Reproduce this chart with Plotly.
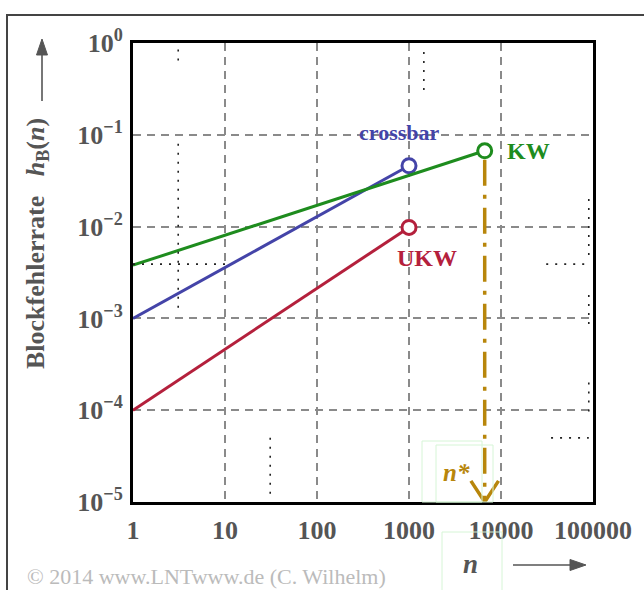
import numpy as np
import plotly.graph_objects as go

# ---------------- data ----------------
n_cross = [1, 1000]
h_cross = [1e-3, 0.046]
n_kw = [1, 6650]
h_kw = [0.0038, 0.067]
n_ukw = [1, 1000]
h_ukw = [1e-4, 0.0098]
n_star = 6650
h_floor = 1e-5

x_ticks = [1, 10, 100, 1000, 10000, 100000]
x_ticklabels = ["1", "10", "100", "1000", "10000", "100000"]
y_ticks = [1e-5, 1e-4, 1e-3, 1e-2, 1e-1, 1]
y_ticklabels = ["10<sup>−5</sup>", "10<sup>−4</sup>", "10<sup>−3</sup>",
                "10<sup>−2</sup>", "10<sup>−1</sup>", "10<sup>0</sup>"]

BLUE = "#4444A8"
GREEN = "#1E8C1E"
RED = "#B4203C"
GOLD = "#B8860B"
GRAY = "#555555"
FONT = "Liberation Serif"

W, H = 644, 590
L, R, T, B = 133, 51, 43, 88

fig = go.Figure()

def series(x, y, color):
    fig.add_trace(go.Scatter(x=x, y=y, mode="lines",
                             line=dict(color=color, width=3), hoverinfo="skip"))
    fig.add_trace(go.Scatter(x=x[-1:], y=y[-1:], mode="markers",
                             marker=dict(size=14, color="white",
                                         line=dict(color=color, width=3)),
                             hoverinfo="skip"))

# dash-dot arrow from KW end point down to n*
fig.add_trace(go.Scatter(x=[n_star, n_star], y=[h_kw[-1] * 0.8, h_floor], mode="lines",
                         line=dict(color=GOLD, width=3.5, dash="26px,9px,4px,9px"),
                         hoverinfo="skip"))
# open V arrowhead
lx = np.log10(n_star)
fig.add_trace(go.Scatter(x=[10 ** (lx - 0.15), n_star, 10 ** (lx + 0.15)],
                         y=[10 ** (-5 + 0.23), h_floor, 10 ** (-5 + 0.23)],
                         mode="lines", line=dict(color=GOLD, width=3.5),
                         hoverinfo="skip"))

series(n_ukw, h_ukw, RED)
series(n_cross, h_cross, BLUE)
series(n_kw, h_kw, GREEN)

# faint dotted artifacts seen in the reference
dots = dict(color="#222222", width=1.6, dash="2px,7px")
artifacts = [
    ([3.1, 3.1], [0.85, 0.55]),
    ([3.1, 3.1], [0.08, 0.0012]),
    ([1.0, 11.0], [0.0039, 0.0039]),
    ([31, 31], [5e-5, 1.05e-5]),
    ([1450, 1450], [0.8, 0.27]),
    ([31000, 90000], [0.0039, 0.0039]),
    ([90000, 90000], [0.02, 0.0045]),
    ([90000, 90000], [0.0018, 0.0008]),
    ([90000, 90000], [2e-4, 9e-5]),
    ([35000, 90000], [5e-5, 5e-5]),
]
for ax_, ay_ in artifacts:
    fig.add_trace(go.Scatter(x=ax_, y=ay_, mode="lines", line=dots, hoverinfo="skip"))


def px_x(p):
    return (p - L) / (W - L - R)


def px_y(p):
    return (H - B - p) / (H - T - B)


ann = []
ann.append(dict(x=np.log10(n_cross[-1]), y=np.log10(h_cross[-1]), xref="x", yref="y",
                text="<b>crossbar</b>", showarrow=False, xshift=-10, yshift=33,
                font=dict(family=FONT, size=22, color=BLUE)))
ann.append(dict(x=np.log10(n_kw[-1]), y=np.log10(h_kw[-1]), xref="x", yref="y",
                text="<b>KW</b>", showarrow=False, xshift=44, yshift=0,
                font=dict(family=FONT, size=24, color=GREEN)))
ann.append(dict(x=np.log10(n_ukw[-1]), y=np.log10(h_ukw[-1]), xref="x", yref="y",
                text="<b>UKW</b>", showarrow=False, xshift=18, yshift=-31,
                font=dict(family=FONT, size=24, color=RED)))
ann.append(dict(x=np.log10(n_star), y=np.log10(h_floor), xref="x", yref="y",
                text="<b><i>n*</i></b>", showarrow=False, xshift=-28, yshift=30,
                font=dict(family=FONT, size=25, color=GOLD)))

# y-axis title
ann.append(dict(x=px_x(37), y=px_y(244),
                xref="paper", yref="paper", xanchor="center", yanchor="middle",
                text="<b>Blockfehlerrate\u00a0\u00a0\u00a0<i>h</i><sub>B</sub>(<i>n</i>)</b>",
                textangle=-90, showarrow=False,
                font=dict(family=FONT, size=26, color=GRAY)))
# x-axis title
ann.append(dict(x=px_x(470), y=px_y(564),
                xref="paper", yref="paper", xanchor="center", yanchor="middle",
                text="<b><i>n</i></b>", showarrow=False,
                font=dict(family=FONT, size=27, color=GRAY)))
# copyright
ann.append(dict(x=px_x(25), y=px_y(576),
                xref="paper", yref="paper", xanchor="left", yanchor="middle",
                text="© 2014 www.LNTwww.de (C. Wilhelm)", showarrow=False,
                font=dict(family=FONT, size=22, color="#BBBBBB")))

def tri(points):
    return "M " + " L ".join(f"{px_x(a):.5f},{px_y(b):.5f}" for a, b in points) + " Z"

shapes = [
    dict(type="rect", xref="paper", yref="paper",
         x0=px_x(7), x1=px_x(660), y0=px_y(610), y1=px_y(15),
         line=dict(color="#444444", width=2), fillcolor="rgba(0,0,0,0)", layer="below"),
    # y-axis arrow
    dict(type="line", xref="paper", yref="paper",
         x0=px_x(42), x1=px_x(42), y0=px_y(101), y1=px_y(52),
         line=dict(color=GRAY, width=1.6)),
    dict(type="path", xref="paper", yref="paper",
         path=tri([(42, 39), (36.5, 55), (47.5, 55)]),
         fillcolor=GRAY, line=dict(color=GRAY, width=1)),
    # x-axis arrow
    dict(type="line", xref="paper", yref="paper",
         x0=px_x(513), x1=px_x(572), y0=px_y(565), y1=px_y(565),
         line=dict(color=GRAY, width=1.6)),
    dict(type="path", xref="paper", yref="paper",
         path=tri([(586, 565), (570, 559.5), (570, 570.5)]),
         fillcolor=GRAY, line=dict(color=GRAY, width=1)),
    # faint green boxes (artifacts)
    dict(type="rect", xref="paper", yref="paper",
         x0=px_x(422), x1=px_x(482), y0=px_y(502), y1=px_y(441),
         line=dict(color="#d6f5d6", width=1)),
    dict(type="rect", xref="paper", yref="paper",
         x0=px_x(436), x1=px_x(493), y0=px_y(502), y1=px_y(445),
         line=dict(color="#d6f5d6", width=1)),
    dict(type="rect", xref="paper", yref="paper",
         x0=px_x(442), x1=px_x(502), y0=px_y(600), y1=px_y(532),
         line=dict(color="#d6f5d6", width=1)),
]

axis_common = dict(
    type="log", showline=True, mirror=True, linewidth=3, linecolor="black",
    showgrid=True, gridcolor="#8a8a8a", gridwidth=1.6, griddash="8px,6px",
    ticks="", zeroline=False,
    tickfont=dict(family=FONT, size=26, color=GRAY, weight="bold"),
)

fig.update_layout(
    width=W, height=H,
    margin=dict(l=L, r=R, t=T, b=B),
    paper_bgcolor="white", plot_bgcolor="white",
    showlegend=False,
    xaxis=dict(axis_common, range=[0, 5], tickvals=x_ticks, ticktext=x_ticklabels,
               ticklabelstandoff=3),
    yaxis=dict(axis_common, range=[-5, 0], tickvals=y_ticks, ticktext=y_ticklabels,
               ticklabelstandoff=2),
    annotations=ann,
    shapes=shapes,
    font=dict(family=FONT),
)

fig.write_html("out.html")
